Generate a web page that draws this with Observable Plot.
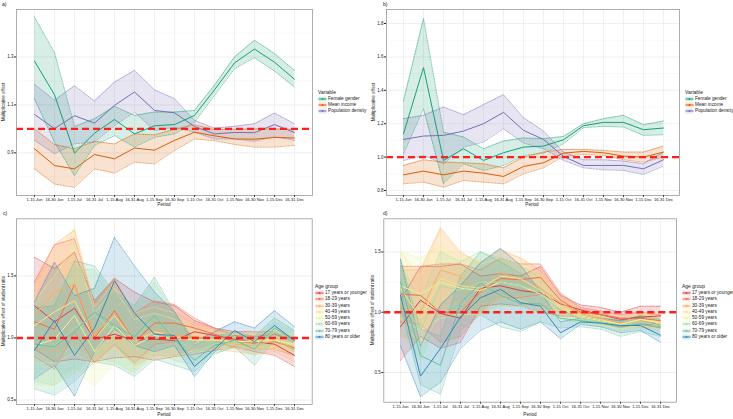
<!DOCTYPE html>
<html><head><meta charset="utf-8">
<script src="https://cdn.jsdelivr.net/npm/d3@7"></script>
<script src="https://cdn.jsdelivr.net/npm/@observablehq/plot@0.6"></script>
<style>
body{margin:0;background:#fff;font-family:Arial,"Liberation Sans",sans-serif;}
#root{position:relative;width:733px;height:419px;overflow:hidden;background:#fff;}
.abs{position:absolute;white-space:nowrap;color:#1a1a1a;}
.t{font-size:5px;}
.leg{position:absolute;font-size:4.7px;color:#1a1a1a;white-space:nowrap;}
.leg .row{position:absolute;left:0;height:6px;line-height:6px;}
.leg svg{position:absolute;left:0;top:0;}
.leg span{position:absolute;}
</style></head><body><div id="root"></div>
<script>
const periods = ["1-15 Jun","16-30 Jun","1-15 Jul","16-31 Jul","1-15 Aug","16-31 Aug","1-15 Sep","16-30 Sep","1-15 Oct","16-31 Oct","1-15 Nov","16-30 Nov","1-15 Dec","16-31 Dec"];

const varNames = ["Female gender","Mean income","Population density"];
const varColors = ["#1B9E77","#D95F02","#7570B3"];
const ageNames = ["17 years or younger","18-29 years","30-39 years","40-49 years","50-59 years","60-69 years","70-79 years","80 years or older"];
const ageColors = ["#D53E4F","#F46D43","#FDAE61","#FEE08B","#E6F598","#ABDDA4","#66C2A5","#3288BD"];

// Panel a) values
const aFemale   = [1.283,1.142,0.899,0.982,1.039,0.979,1.013,1.018,1.056,1.163,1.275,1.333,1.278,1.207];
const aFemaleHi = [1.467,1.318,1.010,1.042,1.094,1.056,1.070,1.070,1.077,1.182,1.300,1.370,1.314,1.244];
const aFemaleLo = [1.126,0.945,0.805,0.931,0.972,0.924,0.965,0.979,1.028,1.140,1.251,1.297,1.241,1.175];
const aIncome   = [0.917,0.847,0.833,0.893,0.875,0.920,0.911,0.952,0.986,0.971,0.958,0.957,0.964,0.962];
const aIncomeHi = [1.000,0.935,0.917,0.948,0.937,0.979,0.975,0.998,1.017,0.997,0.998,1.000,0.999,0.998];
const aIncomeLo = [0.833,0.770,0.756,0.833,0.816,0.861,0.854,0.910,0.958,0.951,0.935,0.924,0.924,0.931];
const aDensity  = [1.060,1.001,1.055,1.024,1.098,1.154,1.077,1.067,1.010,0.979,0.985,0.984,1.018,0.985];
const aDensityHi= [1.186,1.119,1.180,1.116,1.195,1.244,1.163,1.126,1.035,1.003,1.011,1.021,1.066,1.021];
const aDensityLo= [0.952,0.896,0.938,0.945,1.014,1.070,0.993,1.007,0.986,0.958,0.958,0.948,0.968,0.952];

// Panel b) values
const bFemale   = [1.140,1.536,0.980,1.050,0.980,1.026,1.060,1.066,1.104,1.188,1.208,1.208,1.164,1.174];
const bFemaleHi = [1.336,1.830,1.150,1.120,1.050,1.096,1.114,1.110,1.124,1.200,1.230,1.250,1.194,1.216];
const bFemaleLo = [1.020,1.290,0.840,0.960,0.920,0.950,1.010,1.024,1.080,1.176,1.184,1.180,1.130,1.134];
const bIncome   = [0.894,0.916,0.894,0.916,0.904,0.884,0.944,0.966,1.024,1.034,1.026,1.006,1.000,1.030];
const bIncomeHi = [0.950,0.984,0.970,0.966,0.960,0.936,1.000,1.030,1.046,1.046,1.040,1.030,1.030,1.066];
const bIncomeLo = [0.840,0.850,0.820,0.860,0.850,0.840,0.900,0.936,1.006,1.016,1.010,0.984,0.970,1.000];
const bDensity  = [1.106,1.126,1.130,1.156,1.200,1.268,1.160,1.106,1.004,0.950,0.950,0.950,0.930,0.984];
const bDensityHi= [1.230,1.250,1.300,1.254,1.314,1.374,1.236,1.156,1.030,0.984,0.984,0.976,0.960,1.030];
const bDensityLo= [0.980,1.010,0.960,1.060,1.090,1.170,1.084,1.050,0.980,0.936,0.924,0.920,0.896,0.946];

// Panel c) values (by age group)
const cEst = [
  [1.26,1.13,1.24,0.99,1.03,0.98,0.99,0.98,1.05,1.02,0.99,0.97,0.95,0.86],
  [1.13,1.07,1.43,1.00,1.22,0.97,1.12,1.12,1.08,1.03,0.97,0.96,0.97,0.92],
  [1.18,1.37,1.43,1.02,1.20,0.97,1.07,1.02,1.01,0.99,0.95,0.94,0.98,0.91],
  [1.10,1.21,1.30,0.99,1.18,0.97,1.05,1.01,0.98,0.99,0.97,0.98,0.99,0.94],
  [0.94,0.99,1.18,0.89,1.10,0.94,1.02,0.99,0.99,0.98,0.97,0.97,0.98,0.95],
  [0.95,0.94,1.08,1.18,1.06,0.97,1.18,1.01,0.89,0.95,0.97,0.94,1.05,0.97],
  [0.95,0.93,1.05,1.21,1.10,1.01,1.18,0.99,0.82,0.94,0.98,0.91,1.08,0.98],
  [0.90,1.14,0.86,1.08,1.46,1.20,1.03,1.02,0.77,0.91,1.06,0.97,1.10,0.98]
];
const cHi = [
  [1.65,1.56,1.69,1.30,1.48,1.37,1.29,1.26,1.14,1.08,1.05,1.05,1.05,0.97],
  [1.45,1.75,1.80,1.28,1.47,1.20,1.30,1.27,1.16,1.08,1.02,1.01,1.03,0.99],
  [1.45,1.75,1.87,1.26,1.49,1.18,1.29,1.21,1.12,1.07,1.03,1.02,1.06,0.99],
  [1.40,1.65,1.88,1.25,1.45,1.20,1.25,1.20,1.08,1.05,1.03,1.05,1.06,1.02],
  [1.30,1.50,1.75,1.20,1.40,1.15,1.20,1.15,1.06,1.04,1.03,1.03,1.05,1.02],
  [1.28,1.30,1.55,1.55,1.35,1.25,1.45,1.20,0.98,1.02,1.03,1.00,1.13,1.05],
  [1.24,1.26,1.62,1.58,1.37,1.26,1.49,1.21,0.94,1.01,1.05,1.01,1.16,1.06],
  [1.29,1.61,1.34,1.40,1.81,1.58,1.37,1.21,0.97,1.05,1.13,1.08,1.22,1.09]
];
const cLo = [
  [0.91,0.81,0.83,0.81,0.84,0.85,0.82,0.85,0.87,0.90,0.93,0.89,0.86,0.77],
  [0.85,0.75,1.05,0.80,0.95,0.80,0.95,0.97,1.00,0.98,0.92,0.91,0.91,0.86],
  [0.91,0.89,0.94,0.81,0.94,0.78,0.86,0.86,0.91,0.91,0.89,0.87,0.89,0.81],
  [0.80,0.80,0.88,0.78,0.92,0.78,0.88,0.85,0.90,0.93,0.92,0.92,0.93,0.87],
  [0.62,0.62,0.75,0.61,0.80,0.74,0.82,0.84,0.88,0.91,0.92,0.91,0.91,0.88],
  [0.65,0.62,0.72,0.85,0.80,0.72,0.88,0.82,0.78,0.88,0.92,0.86,0.97,0.89],
  [0.59,0.54,0.65,0.81,0.78,0.69,0.83,0.78,0.73,0.87,0.93,0.78,0.99,0.90],
  [0.67,0.78,0.53,0.89,1.07,0.94,0.89,0.94,0.69,0.89,1.02,0.95,1.03,0.97]
];

// Panel d) values (by age group)
const dEst = [
  [0.88,1.10,0.99,0.95,1.20,1.22,1.18,1.16,1.07,1.02,0.98,0.94,0.96,0.97],
  [1.15,1.14,1.00,1.00,1.17,1.28,1.27,1.29,1.10,1.00,0.98,0.95,0.95,0.93],
  [1.05,1.00,1.35,1.30,1.15,1.33,1.27,1.20,1.08,0.99,0.95,0.91,0.93,0.92],
  [1.20,0.95,1.28,1.22,1.20,1.30,1.28,1.18,1.05,0.97,0.94,0.90,0.94,0.92],
  [1.22,1.15,1.25,1.20,1.18,1.25,1.22,1.15,1.03,0.96,0.93,0.90,0.94,0.91],
  [1.10,0.85,1.22,1.18,1.25,1.25,1.22,1.17,1.00,0.95,0.92,0.89,0.92,0.89],
  [1.25,0.64,0.56,1.08,1.24,1.14,1.07,1.07,0.95,0.93,0.91,0.88,0.90,0.87],
  [1.14,0.47,0.70,0.96,1.12,1.19,1.08,1.05,0.83,0.92,0.91,0.89,0.89,0.81]
];
const dHi = [
  [1.10,1.38,1.38,1.40,1.30,1.32,1.30,1.38,1.14,1.06,1.04,1.00,1.05,1.05],
  [1.38,1.38,1.40,1.40,1.35,1.45,1.40,1.40,1.16,1.04,1.01,0.98,1.00,0.98],
  [1.35,1.35,1.70,1.50,1.40,1.52,1.45,1.35,1.15,1.03,0.99,0.95,0.98,0.97],
  [1.50,1.30,1.68,1.48,1.42,1.50,1.45,1.32,1.10,1.01,0.98,0.94,0.99,0.97],
  [1.50,1.45,1.55,1.45,1.40,1.45,1.40,1.30,1.10,1.00,0.97,0.94,0.98,0.96],
  [1.40,1.10,1.50,1.42,1.50,1.45,1.38,1.30,1.06,0.99,0.96,0.93,0.97,0.95],
  [1.44,0.86,0.80,1.30,1.50,1.42,1.32,1.20,1.02,0.97,0.95,0.93,0.97,0.94],
  [1.44,0.72,1.06,1.22,1.41,1.53,1.39,1.17,0.92,0.95,0.95,0.93,0.97,0.88]
];
const dLo = [
  [0.60,0.80,0.70,0.75,1.05,1.07,1.05,1.00,0.97,0.96,0.93,0.88,0.90,0.90],
  [0.92,0.90,0.75,0.80,1.00,1.12,1.12,1.15,1.02,0.96,0.94,0.91,0.90,0.88],
  [0.80,0.75,1.05,1.10,0.98,1.15,1.10,1.05,1.00,0.96,0.91,0.87,0.88,0.87],
  [0.95,0.72,0.98,0.98,1.00,1.12,1.10,1.04,0.99,0.93,0.90,0.86,0.89,0.87],
  [0.95,0.85,0.95,0.98,0.98,1.05,1.05,1.00,0.96,0.92,0.89,0.86,0.90,0.86],
  [0.85,0.60,0.95,0.95,1.00,1.05,1.05,1.03,0.94,0.91,0.88,0.85,0.87,0.84],
  [1.05,0.40,0.32,0.85,0.98,0.88,0.84,0.92,0.87,0.88,0.86,0.80,0.84,0.80],
  [0.72,0.30,0.42,0.70,0.85,0.92,0.86,0.92,0.78,0.90,0.88,0.83,0.85,0.75]
];

const root = document.getElementById("root");

function rows(est, lo, hi) {
  return periods.map((p, i) => ({period: p, est: est[i], lo: lo[i], hi: hi[i]}));
}

function panel({series, yDomain, yTicks, yMinor, left, top, width, height, mt, mb, ml, mr}) {
  const marks = [
    Plot.ruleY(yMinor, {stroke: "#f3f3f3", strokeWidth: 0.5}),
    Plot.ruleY(yTicks, {stroke: "#e8e8e8", strokeWidth: 0.7}),
    Plot.ruleX(periods, {stroke: "#ebebeb", strokeWidth: 0.7})
  ];
  for (const s of series) {
    const d = rows(s.est, s.lo, s.hi);
    marks.push(Plot.areaY(d, {x: "period", y1: "lo", y2: "hi", fill: s.color, fillOpacity: 0.18}));
  }
  for (const s of series) {
    const d = rows(s.est, s.lo, s.hi);
    marks.push(Plot.lineY(d, {x: "period", y: "lo", stroke: s.color, strokeWidth: 0.6, strokeDasharray: "1.6,1.2", strokeOpacity: 0.85}));
    marks.push(Plot.lineY(d, {x: "period", y: "hi", stroke: s.color, strokeWidth: 0.6, strokeDasharray: "1.6,1.2", strokeOpacity: 0.85}));
  }
  for (const s of series) {
    const d = rows(s.est, s.lo, s.hi);
    marks.push(Plot.lineY(d, {x: "period", y: "est", stroke: s.color, strokeWidth: 1}));
  }
  marks.push(Plot.ruleY([1], {stroke: "#ff1f1f", strokeWidth: 2.4, strokeDasharray: "7,4"}));
  marks.push(Plot.frame({stroke: "#9a9a9a", strokeWidth: 0.8}));
  marks.push(Plot.axisX({tickSize: 2, tickPadding: 1, label: null, fontSize: 4.1, stroke: "#444", color: "#111"}));
  marks.push(Plot.axisY({ticks: yTicks, tickSize: 2, tickPadding: 1, label: null, tickFormat: d3.format(".1f"), fontSize: 4.5, color: "#222"}));
  const chart = Plot.plot({
    width, height,
    marginTop: mt, marginBottom: mb, marginLeft: ml, marginRight: mr,
    style: {fontFamily: "Arial, 'Liberation Sans', sans-serif", fontSize: "4.1px", background: "transparent", overflow: "visible"},
    x: {type: "point", domain: periods, padding: 0.6},
    y: {domain: yDomain},
    marks
  });
  chart.style.position = "absolute";
  chart.style.left = left + "px";
  chart.style.top = top + "px";
  root.appendChild(chart);
}

function text(str, x, y, opts = {}) {
  const el = document.createElement("div");
  el.className = "abs t";
  el.textContent = str;
  el.style.left = x + "px";
  el.style.top = y + "px";
  el.style.lineHeight = "6px";
  if (opts.size) el.style.fontSize = opts.size + "px";
  if (opts.center) el.style.transform = "translate(-50%,0)";
  if (opts.rotate) { el.style.transform = "translate(-50%,-50%) rotate(-90deg)"; }
  root.appendChild(el);
}

function legend(title, names, colors, left, top, step) {
  const box = document.createElement("div");
  box.className = "leg";
  box.style.left = left + "px";
  box.style.top = top + "px";
  const t = document.createElement("div");
  t.style.position = "absolute"; t.style.left = "0px"; t.style.top = "0px"; t.style.lineHeight = "6px";
  t.style.fontSize = "5px";
  t.textContent = title;
  box.appendChild(t);
  names.forEach((n, i) => {
    const r = document.createElement("div");
    r.className = "row";
    r.style.top = (7.2 + i * step) + "px";
    r.innerHTML = `<svg width="9" height="6"><rect x="0.5" y="0.5" width="8" height="5" fill="${colors[i]}" fill-opacity="0.18"/><line x1="0.5" x2="8.5" y1="3" y2="3" stroke="${colors[i]}" stroke-width="1"/><circle cx="4.5" cy="3" r="0.9" fill="${colors[i]}"/></svg><span style="left:10px;top:0">${n}</span>`;
    box.appendChild(r);
  });
  root.appendChild(box);
}

const varSeriesA = [
  {est: aFemale, lo: aFemaleLo, hi: aFemaleHi, color: varColors[0]},
  {est: aIncome, lo: aIncomeLo, hi: aIncomeHi, color: varColors[1]},
  {est: aDensity, lo: aDensityLo, hi: aDensityHi, color: varColors[2]}
];
const varSeriesB = [
  {est: bFemale, lo: bFemaleLo, hi: bFemaleHi, color: varColors[0]},
  {est: bIncome, lo: bIncomeLo, hi: bIncomeHi, color: varColors[1]},
  {est: bDensity, lo: bDensityLo, hi: bDensityHi, color: varColors[2]}
];
const ageSeriesC = ageNames.map((n, i) => ({est: cEst[i], lo: cLo[i], hi: cHi[i], color: ageColors[i]}));
const ageSeriesD = ageNames.map((n, i) => ({est: dEst[i], lo: dLo[i], hi: dHi[i], color: ageColors[i]}));

panel({series: varSeriesA, yDomain: [0.722, 1.498], yTicks: [0.9, 1.1, 1.3], yMinor: [0.8, 1.0, 1.2, 1.4],
  left: 0, top: 0, width: 314, height: 210, mt: 9, mb: 15, ml: 16, mr: 2});
panel({series: varSeriesB, yDomain: [0.77, 1.884], yTicks: [0.8, 1.0, 1.2, 1.4, 1.6, 1.8], yMinor: [0.9, 1.1, 1.3, 1.5, 1.7],
  left: 370, top: 0, width: 311, height: 210, mt: 9, mb: 15, ml: 16, mr: 2});
panel({series: ageSeriesC, yDomain: [0.464, 1.96], yTicks: [0.5, 1.0, 1.5], yMinor: [0.75, 1.25, 1.75],
  left: 0, top: 209, width: 314, height: 210, mt: 9.3, mb: 15, ml: 16, mr: 2.3});
panel({series: ageSeriesD, yDomain: [0.254, 1.775], yTicks: [0.5, 1.0, 1.5], yMinor: [0.75, 1.25, 1.75],
  left: 370, top: 209, width: 308, height: 210, mt: 9.3, mb: 17.3, ml: 13.3, mr: 2});

// panel letters
text("a)", 2, 1);
text("b)", 383, 1);
text("c)", 3, 210);
text("d)", 383, 210);
// axis titles
text("Period", 164, 202, {center: true, size: 4.6});
text("Period", 532, 202, {center: true, size: 4.6});
text("Period", 164, 412, {center: true, size: 4.6});
text("Period", 530, 412, {center: true, size: 4.6});
text("Multiplicative effect", 4, 102, {rotate: true, size: 4.6});
text("Multiplicative effect", 374, 102, {rotate: true, size: 4.6});
text("Multiplicative effect of student ratio", 4, 311, {rotate: true, size: 4.6});
text("Multiplicative effect of student ratio", 373, 310, {rotate: true, size: 4.6});

legend("Variable", varNames, varColors, 318, 88.5, 6.1);
legend("Variable", varNames, varColors, 685, 88.5, 6.1);
legend("Age group", ageNames, ageColors, 315, 283, 6.25);
legend("Age group", ageNames, ageColors, 682, 283, 6.25);
</script></body></html>
